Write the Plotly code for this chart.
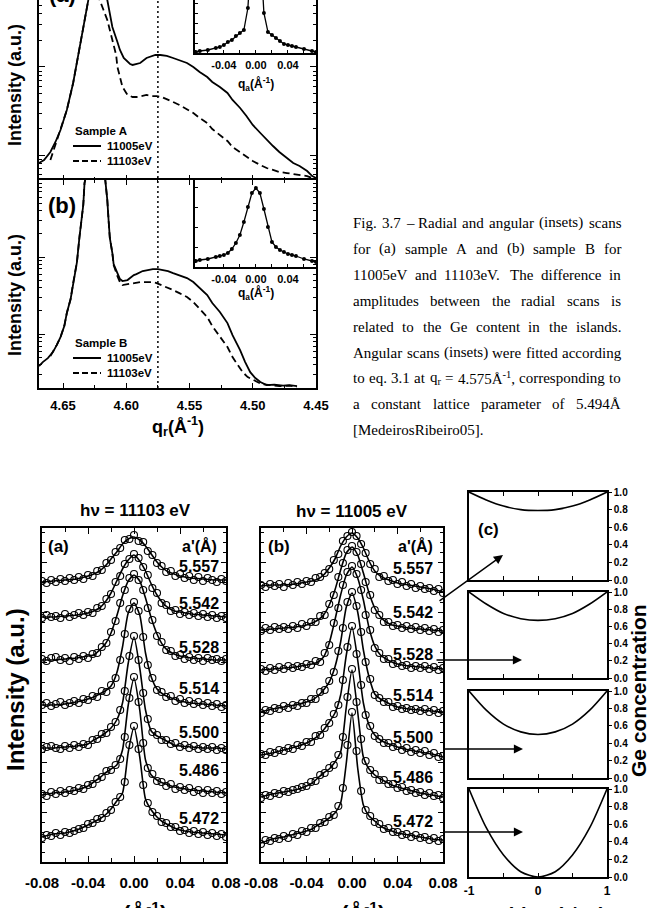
import plotly.graph_objects as go

W, H = 650, 908
SANS = "Liberation Sans, Arial, sans-serif"
SERIF = "Liberation Serif, Times New Roman, serif"

# ---------------- radial scans (top, log intensity in decades) ----------------
QR_A_11005 = [4.669,4.665,4.660,4.656,4.652,4.647,4.642,4.637,4.633,4.630,4.627,4.624,4.621,4.618,4.615,
              4.613,4.611,4.607,4.605,4.602,4.599,4.597,4.595,4.592,4.589,4.584,4.580,4.577,4.573,4.568,
              4.563,4.558,4.552,4.547,4.542,4.536,4.532,4.526,4.520,4.516,4.510,4.505,4.500,4.494,4.489,
              4.484,4.479,4.473,4.468,4.463,4.457,4.453,4.450]
LOGI_A_11005 = [0.909,0.943,1.034,1.148,1.284,1.511,1.818,2.193,2.534,2.761,3.443,3.670,3.443,2.990,2.761,
                2.591,2.455,2.284,2.193,2.102,2.057,2.034,2.023,2.034,2.045,2.102,2.125,2.136,2.136,2.125,
                2.102,2.080,2.045,2.000,1.943,1.886,1.830,1.773,1.705,1.625,1.534,1.443,1.341,1.250,1.170,
                1.102,1.034,0.966,0.909,0.875,0.818,0.761,0.739]
QR_A_11103 = [4.660,4.656,4.652,4.647,4.642,4.637,4.633,4.630,4.627,4.624,4.622,4.621,4.618,4.615,4.613,
              4.611,4.608,4.607,4.604,4.603,4.600,4.599,4.595,4.592,4.588,4.584,4.580,4.576,4.572,4.568,
              4.563,4.558,4.552,4.547,4.542,4.536,4.532,4.526,4.520,4.516,4.510,4.505,4.500,4.494,4.489,
              4.484,4.479,4.473,4.468,4.463,4.457,4.453,4.450]
LOGI_A_11103 = [0.943,1.114,1.284,1.511,1.818,2.193,2.534,2.761,3.443,3.610,3.102,2.761,2.648,2.534,2.420,
                2.307,2.136,2.000,1.852,1.773,1.705,1.682,1.659,1.659,1.670,1.682,1.670,1.670,1.659,1.636,
                1.602,1.568,1.523,1.477,1.420,1.364,1.295,1.227,1.159,1.091,1.034,0.977,0.932,0.886,0.852,
                0.830,0.807,0.795,0.784,0.773,0.761,0.739,0.727]
QR_B_11005 = [4.669,4.666,4.662,4.658,4.655,4.652,4.649,4.647,4.644,4.642,4.639,4.637,4.634,4.633,4.630,
              4.626,4.623,4.619,4.617,4.616,4.615,4.614,4.613,4.611,4.610,4.607,4.605,4.603,4.599,4.597,
              4.594,4.592,4.587,4.583,4.579,4.575,4.571,4.567,4.563,4.558,4.552,4.547,4.542,4.536,4.532,
              4.526,4.520,4.516,4.510,4.506,4.502,4.498,4.494,4.489,4.483,4.476,4.471,4.465]
LOGI_B_11005 = [0.584,0.636,0.688,0.766,0.857,0.961,1.104,1.273,1.455,1.662,1.935,2.260,2.675,2.961,3.260,
                3.520,3.520,3.260,3.065,2.935,2.740,2.481,2.247,2.052,1.909,1.792,1.714,1.688,1.701,1.727,
                1.766,1.779,1.818,1.831,1.844,1.844,1.831,1.818,1.792,1.766,1.727,1.675,1.597,1.506,1.403,
                1.286,1.143,0.987,0.792,0.636,0.506,0.429,0.377,0.338,0.345,0.330,0.338,0.325]
QR_B_11103 = [4.660,4.658,4.655,4.652,4.649,4.647,4.644,4.642,4.639,4.637,4.634,4.633,4.630,4.626,4.623,
              4.619,4.617,4.616,4.615,4.614,4.613,4.611,4.610,4.607,4.605,4.603,4.599,4.595,4.589,4.584,
              4.580,4.576,4.572,4.568,4.563,4.558,4.552,4.547,4.542,4.536,4.532,4.526,4.520,4.516,4.512,
              4.508,4.504,4.498,4.493,4.486,4.479,4.471,4.465]
LOGI_B_11103 = [0.714,0.766,0.857,0.961,1.104,1.273,1.455,1.662,1.935,2.260,2.675,2.961,3.260,3.520,3.520,
                3.260,3.065,2.935,2.740,2.481,2.247,2.052,1.896,1.753,1.675,1.636,1.649,1.662,1.675,1.675,
                1.675,1.662,1.636,1.610,1.571,1.532,1.481,1.416,1.325,1.221,1.104,0.961,0.831,0.701,0.597,
                0.506,0.442,0.390,0.351,0.338,0.325,0.330,0.318]

# ---------------- angular scans (insets) ----------------
QA_INSET = [-0.075,-0.07,-0.06,-0.05,-0.045,-0.04,-0.035,-0.03,-0.025,-0.02,-0.015,-0.01,-0.005,0,
            0.005,0.01,0.015,0.02,0.025,0.03,0.035,0.04,0.045,0.05,0.06,0.07,0.075]
INSET_A = [1,2,3,5,6,8,11,13,17,20,23,45,110,130,110,40,21,18,15,12,9,8,7,6,4,2,1]
INSET_B = [6,7,8,10,11,12,14,18,24,32,45,60,74,79,74,58,40,25,20,17,15,13,12,11,8,6,5]

# ---------------- angular scans vs lattice parameter (bottom) ----------------
A_PRIME = ["5.557", "5.542", "5.528", "5.514", "5.500", "5.486", "5.472"]
Q_FIT = [-0.08,-0.07,-0.06,-0.05,-0.04,-0.035,-0.03,-0.025,-0.02,-0.015,-0.01,-0.005,0,
         0.005,0.01,0.015,0.02,0.025,0.03,0.035,0.04,0.05,0.06,0.07,0.08]
Q_DATA = [round(-0.08 + 0.004 * i, 3) for i in range(41)]
OFFSET_11103 = [280, 245, 202, 157, 114, 67, 25]
OFFSET_11005 = [276, 232, 192, 150, 107, 65, 19]
FIT_11103 = [
    [0,1,2,3,6,8,11,16,23,30,38,43,45,42,36,28,20,14,10,8,6,4,3,2,2],
    [0,0,1,2,4,6,9,15,24,36,48,57,62,56,46,33,22,14,9,6,5,3,2,1,0],
    [0,0,1,2,4,5,10,16,27,44,64,79,85,79,62,42,26,15,9,6,4,2,1,0,0],
    [0,0,1,3,6,8,11,14,19,32,58,92,102,90,52,28,16,11,8,6,4,2,1,0,-1],
    [0,0,1,2,4,8,11,15,20,28,45,85,111,80,38,17,12,9,6,3,2,1,0,0,-1],
    [0,2,3,5,9,13,17,22,26,30,45,90,117,85,35,20,15,12,10,8,7,5,4,3,2],
    [0,3,4,7,12,15,18,22,28,36,44,85,110,80,38,27,20,15,12,9,7,5,4,3,2],
]
DATA_11103 = [
    [1,-1,2,0,3,1,4,2,5,3,7,6,11,12,19,22,30,34,42,43,47,41,40,31,27,19,16,10,11,6,8,4,6,2,5,1,4,2,0,3,1],
    [-1,2,0,1,-1,3,0,2,4,2,5,4,9,11,18,23,35,41,53,58,63,59,50,42,29,24,14,12,6,7,3,5,2,4,1,3,0,2,-1,1,-1],
    [1,-1,2,3,0,2,-1,3,1,4,2,6,7,13,17,28,39,57,70,82,86,80,70,52,40,24,18,10,9,4,5,1,3,0,2,-1,2,0,1,-1,1],
    [0,2,-1,1,3,0,2,4,2,6,5,9,8,14,13,20,27,45,71,96,103,94,68,40,27,15,13,8,9,4,6,2,4,1,3,0,2,-1,1,-2,0],
    [-1,1,2,0,-1,2,0,3,1,4,3,8,9,14,15,21,26,38,57,92,112,88,55,29,16,13,8,8,4,5,1,3,0,2,-1,1,-1,1,-2,0,-2],
    [1,-1,3,1,4,2,5,4,7,6,10,11,16,18,24,25,30,36,58,97,118,93,52,27,21,14,13,9,11,6,8,5,7,3,5,2,5,2,4,1,3],
    [-1,2,1,4,2,5,4,6,8,9,13,14,18,19,24,27,35,40,55,92,111,88,52,34,25,21,15,14,10,10,6,7,4,6,3,5,2,4,1,3,0],
]
FIT_11005 = [
    [0,1,1,2,4,5,7,11,18,27,40,49,53,48,38,25,15,10,7,5,3,1,-1,-3,-6],
    [0,1,2,3,5,7,10,15,25,40,60,77,83,75,57,37,22,13,8,5,4,2,1,0,-1],
    [0,1,2,3,5,6,8,13,27,50,75,95,103,92,70,42,24,15,11,8,6,4,3,2,1],
    [0,3,5,7,10,12,16,22,30,45,70,105,119,100,62,35,18,13,10,7,5,3,2,1,0],
    [0,2,5,8,12,15,19,25,33,42,60,100,128,95,52,30,20,15,12,10,8,5,3,1,-2],
    [0,3,5,7,11,14,19,24,28,35,45,90,127,85,40,28,22,18,15,12,10,7,4,2,0],
    [0,4,6,9,12,14,18,21,25,30,40,80,130,75,38,27,22,17,14,12,10,8,6,4,3],
]
DATA_11005 = [
    [1,-1,2,0,2,-1,3,1,4,2,5,4,8,9,13,17,26,32,45,50,54,50,42,33,22,17,9,10,5,6,2,4,0,2,-2,0,-3,-2,-5,-3,-7],
    [-1,2,0,3,1,3,1,4,2,6,4,8,8,14,15,26,35,53,67,80,84,78,66,48,35,20,15,8,8,4,5,2,4,1,3,0,2,-1,1,-2,0],
    [1,-1,2,0,3,1,4,2,4,3,6,5,9,8,17,25,47,62,85,98,104,96,80,55,40,22,17,11,11,6,7,4,5,2,4,2,4,1,3,0,2],
    [-1,2,1,4,3,6,4,7,6,9,9,13,13,20,22,31,40,61,84,110,120,106,80,50,33,17,14,10,10,5,6,3,4,2,3,1,3,0,2,-1,1],
    [1,0,3,2,5,4,7,6,10,9,13,13,19,20,27,32,41,50,75,108,129,101,70,40,29,19,16,12,12,8,9,5,7,3,5,2,4,0,2,-2,-1],
    [-1,2,1,4,3,6,5,7,8,10,11,15,16,22,24,29,32,42,60,100,128,95,58,36,27,23,17,17,13,13,9,10,6,7,4,5,2,4,1,2,-1],
    [-1,3,2,5,4,7,5,9,8,12,11,15,15,20,21,26,28,37,55,98,131,92,52,33,27,21,19,14,15,11,11,8,9,6,8,5,6,3,5,2,4],
]

# ---------------- Ge concentration profiles (c) ----------------
R_POS = [-1,-0.75,-0.5,-0.25,0,0.25,0.5,0.75,1]
GE_CONC = [
    [1.0,0.91,0.84,0.80,0.79,0.80,0.84,0.91,1.0],
    [1.0,0.86,0.75,0.69,0.67,0.69,0.75,0.86,1.0],
    [1.0,0.78,0.62,0.53,0.50,0.53,0.62,0.78,1.0],
    [1.0,0.56,0.25,0.06,0.0,0.06,0.25,0.56,1.0],
]

CAPTION = [
    "Fig. 3.7 – Radial and angular (insets) scans",
    "for (a) sample A and (b) sample B for",
    "11005eV and 11103eV. The difference in",
    "amplitudes between the radial scans is",
    "related to the Ge content in the islands.",
    "Angular scans (insets) were fitted according",
    "to eq. 3.1 at q<sub>r</sub> = 4.575Å<sup>-1</sup>, corresponding to",
    "a constant lattice parameter of 5.494Å",
    "[MedeirosRibeiro05].",
]

# ------------------------------------------------------------------
def fx(x): return x / W
def fy(y): return 1 - y / H

fig = go.Figure()
BLK = "black"

def line_tr(x, y, xa, ya, dash=None, width=1.8, mode="lines", marker=None, shape="linear"):
    d = dict(x=x, y=y, xaxis=xa, yaxis=ya, mode=mode, hoverinfo="skip",
             line=dict(color=BLK, width=width, dash=dash, shape=shape))
    if marker: d["marker"] = marker
    fig.add_trace(go.Scatter(**d))

# top radial scans
line_tr(QR_A_11005, [10 ** v for v in LOGI_A_11005], "x", "y")
line_tr(QR_A_11103, [10 ** v for v in LOGI_A_11103], "x", "y", dash="7px,4px")
line_tr(QR_B_11005, [10 ** v for v in LOGI_B_11005], "x2", "y2")
line_tr(QR_B_11103, [10 ** v for v in LOGI_B_11103], "x2", "y2", dash="7px,4px")
# insets
dot = dict(size=4, color=BLK, symbol="circle")
line_tr(QA_INSET, INSET_A, "x3", "y3", width=1.3, mode="lines+markers", marker=dot)
line_tr(QA_INSET, INSET_B, "x4", "y4", width=1.3, mode="lines+markers", marker=dot)
# bottom stacked scans
circ = dict(symbol="circle-open", size=7, color=BLK, line=dict(width=1.1, color=BLK))
for offs, fits, datas, xa, ya in [(OFFSET_11103, FIT_11103, DATA_11103, "x5", "y5"),
                                  (OFFSET_11005, FIT_11005, DATA_11005, "x6", "y6")]:
    for off, ft, dt in zip(offs, fits, datas):
        fig.add_trace(go.Scatter(x=Q_DATA, y=[off + v for v in dt], xaxis=xa, yaxis=ya, mode="markers",
                                 marker=circ, hoverinfo="skip"))
        fig.add_trace(go.Scatter(x=Q_FIT, y=[off + v for v in ft], xaxis=xa, yaxis=ya, mode="lines",
                                 line=dict(color=BLK, width=1.6, shape="spline", smoothing=0.6),
                                 hoverinfo="skip"))
# Ge profiles
for i, g in enumerate(GE_CONC):
    n = 7 + i
    fig.add_trace(go.Scatter(x=R_POS, y=g, xaxis=f"x{n}", yaxis=f"y{n}", mode="lines",
                             line=dict(color=BLK, width=1.6, shape="spline", smoothing=0.8),
                             hoverinfo="skip"))

# ------------------------------------------------------------------ axes
def base_axis(domain, anchor, **kw):
    d = dict(domain=domain, anchor=anchor, showline=True, linecolor=BLK, linewidth=2,
             ticks="inside", tickcolor=BLK, tickwidth=1.3, ticklen=5, showgrid=False, zeroline=False,
             showticklabels=False, automargin=False,
             tickfont=dict(family=SANS, size=13, color=BLK, weight="bold"))
    d.update(kw)
    return d

lay = {}
XD_TOP = [fx(39), fx(316)]
log_minor = [m * 10 ** e for e in range(0, 4) for m in range(2, 10)]
lay["xaxis"] = base_axis(XD_TOP, "y", range=[4.669, 4.45], tickvals=[4.45, 4.5, 4.55, 4.6, 4.65],
                         mirror=False, showline=False,
                         minor=dict(dtick=0.025, tick0=4.45, ticks="inside", ticklen=3, tickcolor=BLK))
lay["yaxis"] = base_axis([fy(180), 1], "x", type="log", range=[0.716, 2.761], tickvals=[1, 10, 100, 1000],
                         mirror="ticks", ticklen=6,
                         minor=dict(tickvals=log_minor, ticks="inside", ticklen=3, tickcolor=BLK))
lay["xaxis2"] = base_axis(XD_TOP, "y2", range=[4.669, 4.45], tickvals=[4.45, 4.5, 4.55, 4.6, 4.65],
                          ticktext=["4.45", "4.50", "4.55", "4.60", "4.65"], showticklabels=True,
                          ticklabelstandoff=4, mirror="ticks",
                          minor=dict(dtick=0.025, tick0=4.45, ticks="inside", ticklen=3, tickcolor=BLK))
lay["yaxis2"] = base_axis([fy(388), fy(180)], "x2", type="log", range=[0.30, 3.0], tickvals=[1, 10, 100, 1000],
                          mirror="ticks", ticklen=6,
                          minor=dict(tickvals=log_minor, ticks="inside", ticklen=3, tickcolor=BLK))
# insets
XD_IN = [fx(195), fx(316)]
in_ticks = dict(range=[-0.076, 0.075], tickvals=[-0.06, -0.04, -0.02, 0, 0.02, 0.04, 0.06],
                ticktext=["", "-0.04", "", "0.00", "", "0.04", ""], showticklabels=True, ticklen=3,
                linewidth=1.5, ticklabelstandoff=1,
                tickfont=dict(family=SANS, size=11, color=BLK, weight="bold"))
lay["xaxis3"] = base_axis(XD_IN, "y3", mirror=False, **in_ticks)
lay["yaxis3"] = base_axis([fy(53), 1], "x3", range=[0, 53], dtick=10, ticklen=3, linewidth=1.5, mirror=True)
lay["xaxis4"] = base_axis(XD_IN, "y4", mirror=True, **in_ticks)
lay["yaxis4"] = base_axis([fy(267), fy(180)], "x4", range=[0, 87], dtick=20, ticklen=3, linewidth=1.5, mirror=True)
# bottom panels
YD_BOT = [fy(862), fy(528)]
bot_x = dict(range=[-0.08, 0.08], tickvals=[-0.08, -0.04, 0, 0.04, 0.08],
             ticktext=["-0.08", "-0.04", "0.00", "0.04", "0.08"], showticklabels=True, mirror="ticks",
             ticklen=6, ticklabelstandoff=6,
             tickfont=dict(family=SANS, size=15, color=BLK, weight="bold"),
             minor=dict(dtick=0.02, tick0=0, ticks="inside", ticklen=4, tickcolor=BLK))
bot_y = dict(range=[0, 334], dtick=50, tick0=0, mirror="ticks", ticklen=5,
             minor=dict(dtick=10, tick0=0, ticks="inside", ticklen=3, tickcolor=BLK))
lay["xaxis5"] = base_axis([fx(42), fx(226)], "y5", **bot_x)
lay["yaxis5"] = base_axis(YD_BOT, "x5", **bot_y)
lay["xaxis6"] = base_axis([fx(261), fx(443)], "y6", **bot_x)
lay["yaxis6"] = base_axis(YD_BOT, "x6", **bot_y)
# Ge panels
C_ROWS = [(492, 580), (592, 678), (691, 778), (789, 877)]
for i, (t, b) in enumerate(C_ROWS):
    n = 7 + i
    last = i == 3
    lay[f"xaxis{n}"] = base_axis([fx(469), fx(607)], f"y{n}", range=[-1, 1],
                                 tickvals=[-1, -0.5, 0, 0.5, 1], ticktext=["-1", "", "0", "", "1"],
                                 showticklabels=last, ticklen=4, linewidth=1.6, mirror="ticks",
                                 ticklabelstandoff=2,
                                 tickfont=dict(family=SANS, size=12, color=BLK, weight="bold"))
    lay[f"yaxis{n}"] = base_axis([fy(b), fy(t)], f"x{n}", range=[0, 1], side="right",
                                 tickvals=[0, 0.2, 0.4, 0.6, 0.8, 1.0],
                                 ticktext=["0.0", "0.2", "0.4", "0.6", "0.8", "1.0"],
                                 showticklabels=True, ticks="outside", ticklen=3, linewidth=1.6, mirror=True,
                                 tickfont=dict(family=SANS, size=10, color=BLK, weight="bold"))

# ------------------------------------------------------------------ annotations
ann = []
def label(text, x, y, size, xanchor="center", yanchor="middle", family=SANS, bold=True, angle=0):
    ann.append(dict(text=f"<b>{text}</b>" if bold else text, x=fx(x), y=fy(y), xref="paper", yref="paper",
                    xanchor=xanchor, yanchor=yanchor, showarrow=False, textangle=angle,
                    font=dict(family=family, size=size, color=BLK)))

def arrow(tip, tail):
    ann.append(dict(x=fx(tip[0]), y=fy(tip[1]), xref="paper", yref="paper", text="",
                    ax=tail[0] - tip[0], ay=tail[1] - tip[1], showarrow=True, arrowhead=2,
                    arrowsize=1.3, arrowwidth=1.4, arrowcolor=BLK, standoff=0))

# top block
label("(a)", 62, -6, 22)
label("(b)", 62, 205, 22)
label("Intensity (a.u.)", 15, 85, 18, angle=-90)
label("Intensity (a.u.)", 15, 295, 18, angle=-90)
label("q<sub>r</sub>(Å<sup>-1</sup>)", 178, 427, 18)
label("q<sub>a</sub>(Å<sup>-1</sup>)", 256, 84, 12)
label("q<sub>a</sub>(Å<sup>-1</sup>)", 256, 293, 12)
for (ty, name) in [(131, "Sample A"), (343, "Sample B")]:
    label(name, 73, ty, 11.5, xanchor="left")
    label("11005eV", 105, ty + 15, 11.5, xanchor="left")
    label("11103eV", 105, ty + 30, 11.5, xanchor="left")

# caption (justified)
TIMES_LOWER = [444,500,444,500,444,333,500,500,278,278,500,278,778,500,500,500,500,333,389,278,500,500,722,500,500,444]
TIMES_UPPER = [722,667,667,722,611,556,722,722,333,389,722,611,889,722,722,556,722,667,556,611,722,722,944,722,722,611]
TW = {chr(97 + i): w for i, w in enumerate(TIMES_LOWER)}
TW.update({chr(65 + i): w for i, w in enumerate(TIMES_UPPER)})
TW.update({c: 500 for c in "0123456789"})
TW.update({" ": 250, ".": 250, ",": 250, "(": 333, ")": 333, "[": 333, "]": 333, "–": 500,
           "-": 333, "=": 564, "Å": 722})

def text_w(s, size):
    w, sc, i = 0.0, 1.0, 0
    while i < len(s):
        if s.startswith("<sub>", i) or s.startswith("<sup>", i):
            sc = 0.7; i += 5; continue
        if s.startswith("</sub>", i) or s.startswith("</sup>", i):
            sc = 1.0; i += 6; continue
        w += TW.get(s[i], 500) * sc
        i += 1
    return w * size / 1000

CAP_SIZE, CAP_X0, CAP_X1, CAP_Y0, CAP_DY = 15, 352, 620, 223, 25.9
for k, line in enumerate(CAPTION):
    y = CAP_Y0 + k * CAP_DY
    words = line.split(" ")
    if k == len(CAPTION) - 1:
        label(line, CAP_X0 - 1, y, CAP_SIZE, xanchor="left", family=SERIF, bold=False)
        continue
    widths = [text_w(wd, CAP_SIZE) for wd in words]
    gap = (CAP_X1 - CAP_X0 - sum(widths)) / (len(words) - 1)
    x = CAP_X0
    for wd, ww in zip(words, widths):
        label(wd, x - 1, y, CAP_SIZE, xanchor="left", family=SERIF, bold=False)
        x += ww + gap

# bottom block
label("hν = 11103 eV", 135, 510, 17)
label("hν = 11005 eV", 352, 511, 17)
label("(a)", 46, 546, 17, xanchor="left")
label("(b)", 266, 546, 17, xanchor="left")
label("a'(Å)", 219, 546, 16, xanchor="right")
label("a'(Å)", 435, 546, 16, xanchor="right")
YA = [566, 603, 647, 688, 732, 770, 818]
YB = [568, 612, 654, 695, 737, 777, 821]
for t, ya, yb in zip(A_PRIME, YA, YB):
    label(t, 221, ya, 16, xanchor="right")
    label(t, 435, yb, 16, xanchor="right")
label("(c)", 476, 529, 17, xanchor="left")
label("Intensity (a.u.)", 15, 690, 24, angle=-90)
label("Ge concentration", 638, 691, 21, angle=-90)
label("q<sub>a</sub>(Å<sup>-1</sup>)", 134, 913, 22)
label("q<sub>a</sub>(Å<sup>-1</sup>)", 352, 913, 22)
label("Position (r/R<sub>0</sub>)", 538, 916, 20)

arrow((503, 555), (438, 602))
arrow((522, 660), (435, 660))
arrow((523, 749), (443, 749))
arrow((523, 832), (443, 832))

# ------------------------------------------------------------------ shapes
shapes = [
    dict(type="line", xref="x", yref="paper", x0=4.575, x1=4.575, y0=fy(388), y1=1,
         line=dict(color=BLK, width=1.5, dash="2px,3px")),
]
for ty in (131, 343):
    shapes.append(dict(type="line", xref="paper", yref="paper", x0=fx(73), x1=fx(101),
                       y0=fy(ty + 15), y1=fy(ty + 15), line=dict(color=BLK, width=2)))
    shapes.append(dict(type="line", xref="paper", yref="paper", x0=fx(73), x1=fx(101),
                       y0=fy(ty + 30), y1=fy(ty + 30), line=dict(color=BLK, width=2, dash="6px,3px")))

fig.update_layout(width=W, height=H, margin=dict(l=0, r=0, t=0, b=0, pad=0, autoexpand=False),
                  showlegend=False, paper_bgcolor="white", plot_bgcolor="rgba(0,0,0,0)",
                  annotations=ann, shapes=shapes, **lay)
fig.write_html("out.html")
